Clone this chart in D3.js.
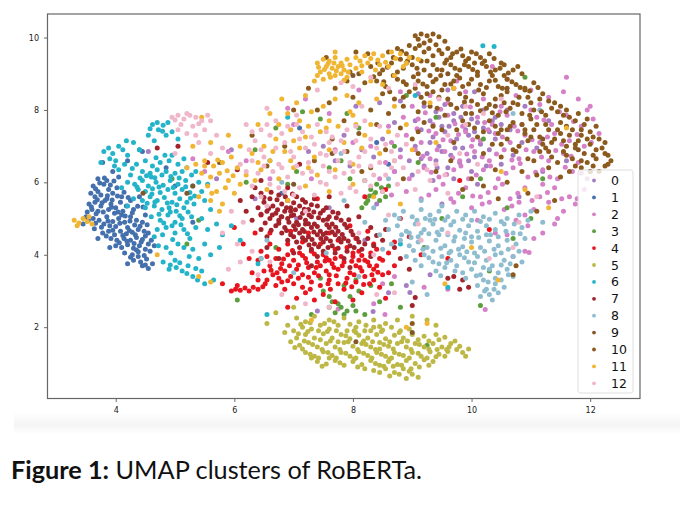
<!DOCTYPE html>
<html>
<head>
<meta charset="utf-8">
<script src="https://cdn.jsdelivr.net/npm/d3@7"></script>
<style>
  body { margin: 0; background: #fff; }
  svg { display: block; }
</style>
</head>
<body>
<div id="chart"></div>
<script>
// cluster names and colours, in plotting order
var labels = ['0','1','2','3','4','5','6','7','8','9','10','11','12']
var colors = ['#a57dc2','#4470ad','#d680c8','#5c9e3e','#e8141e','#bdb845','#24b4c9',
              '#a2232b','#8fbdd0','#83562a','#8c5a1c','#f0b532','#f0b6ca']
var xTicks = [4, 6, 8, 10, 12]
var yTicks = [2, 4, 6, 8, 10]

// umap coordinates, one array per cluster
var c0 = [[9.2,8.1],[9.4,7.95],[9.55,8.15],[9.7,7.9],[9.85,8.1],[10.0,7.75],[10.2,8.0],[10.4,7.8],[10.6,8.0],[9.3,7.7],[9.5,7.55],[9.7,7.7],[9.9,7.45],[10.1,7.65],[10.3,7.4],[10.5,7.6],[9.15,7.45],[9.35,7.25],[9.55,7.4],[9.75,7.2],[9.95,7.3],[10.15,7.05],[10.4,7.2],[9.05,7.0],[9.25,6.8],[9.45,7.0],[9.65,6.75],[9.85,6.95],[10.05,6.7],[10.3,6.9],[8.95,6.6],[9.2,6.45],[9.4,6.6],[9.6,6.4],[9.8,6.55],[10.0,6.3],[10.25,6.45],[8.8,6.9],[8.7,6.3],[9.0,6.2],[9.35,6.05],[9.7,6.1],[10.1,5.95],[10.5,6.5],[10.7,6.75],[10.85,7.1],[11.1,6.95],[10.65,7.45],[9.05,7.7],[8.7,7.65],[8.5,7.2],[8.35,6.7],[8.15,6.9],[7.95,6.45],[7.7,6.6],[7.5,7.0],[7.25,6.85],[7.85,7.3],[8.05,8.1],[8.45,8.2],[8.8,8.25],[9.1,8.45],[9.6,8.55],[10.05,8.5],[10.9,8.1],[11.3,7.7],[11.6,6.6],[11.2,6.3],[10.8,5.6],[9.5,5.4],[8.4,5.4],[7.6,5.3],[8.9,3.15],[8.6,2.95],[7.4,2.45],[5.95,6.9],[5.7,6.1],[4.55,6.85],[6.35,5.55],[7.05,5.0],[8.2,4.4],[9.3,3.45],[8.34,2.43],[8.96,2.96],
  [9.45,7.8],[9.62,7.55],[9.82,7.8],[10.05,7.4],[9.3,7.1],[9.5,6.85],[9.72,6.95],[9.95,6.6],[9.15,6.65],[9.42,6.4],[10.2,7.5],[10.35,7.7]]

var c1 = [[3.78,6.55],[3.95,6.3],[4.2,6.6],[4.45,6.85],[3.7,6.1],[3.85,6.05],[4.05,6.15],[3.62,5.9],[3.7,5.75],[3.8,5.95],[3.88,5.8],[3.75,5.65],[3.95,5.7],[4.02,5.85],[3.65,5.6],[4.1,5.6],[3.85,5.55],[3.58,5.7],[3.55,5.4],[3.65,5.45],[3.75,5.35],[3.82,5.5],[3.92,5.4],[4.0,5.3],[4.08,5.45],[4.18,5.35],[3.7,5.2],[3.88,5.25],[3.98,5.15],[4.12,5.2],[4.25,5.5],[3.6,5.25],[4.3,5.25],[4.4,5.6],[3.5,5.05],[3.62,5.0],[3.72,4.95],[3.85,5.05],[3.95,4.92],[4.05,5.0],[4.15,4.9],[4.25,5.05],[4.35,4.95],[3.8,4.85],[3.9,4.8],[4.0,4.78],[4.2,4.75],[4.32,4.82],[4.45,4.9],[4.1,5.1],[3.45,4.85],[4.5,5.1],[3.78,4.6],[3.88,4.65],[3.98,4.55],[4.08,4.65],[4.18,4.58],[4.28,4.62],[4.38,4.7],[4.48,4.65],[3.92,4.45],[4.02,4.4],[4.14,4.45],[4.25,4.4],[4.35,4.48],[4.45,4.42],[4.55,4.6],[3.7,4.45],[4.6,4.4],[4.0,4.25],[4.1,4.2],[4.2,4.28],[4.3,4.18],[4.4,4.25],[4.5,4.15],[4.15,4.05],[4.28,4.0],[4.38,4.08],[4.48,3.98],[4.58,4.1],[3.9,4.2],[4.65,4.25],[4.3,3.85],[4.42,3.8],[4.52,3.88],[4.45,3.7],[4.55,3.62],[4.62,3.75],[4.2,3.75],[4.85,6.4],[5.0,5.9],[5.3,4.9],[8.4,7.1],[8.6,6.5],[7.1,7.5],[6.8,5.7],
  [3.66,5.82],[3.73,5.98],[3.81,6.12],[3.91,5.93],[3.97,6.04],[3.69,5.52],[3.77,5.44],[3.86,5.63],[3.94,5.51],[4.03,5.62],[4.14,5.73],[4.21,5.58],[3.59,5.32],[3.67,5.13],[3.79,5.18],[3.93,5.31],[4.04,5.18],[4.16,5.07],[4.28,5.16],[4.37,5.34],[3.54,4.96],[3.66,4.87],[3.76,4.76],[3.87,4.93],[4.07,4.87],[4.24,4.93],[4.41,4.79],[4.53,4.83],[3.84,4.52],[3.95,4.68],[4.12,4.53],[4.23,4.67],[4.33,4.55],[4.5,4.52],[4.06,4.33],[4.19,4.37],[4.31,4.31],[4.43,4.35],[4.55,4.3],[4.35,4.13],[4.25,3.93],[4.5,3.72],[4.38,3.95],[3.64,4.72],[4.46,5.32],[3.52,5.18]]

var c2 = [[9.3,8.4],[9.6,8.2],[9.9,8.5],[10.2,8.3],[10.5,8.1],[10.75,8.4],[11.0,8.55],[11.3,8.35],[11.55,8.5],[11.8,8.3],[12.0,8.1],[9.0,8.1],[8.8,8.5],[11.15,8.15],[9.1,7.75],[9.35,7.6],[9.6,7.85],[9.85,7.55],[10.1,7.8],[10.35,7.6],[10.6,7.85],[10.85,7.6],[11.1,7.8],[11.35,7.6],[11.6,7.85],[11.85,7.55],[12.05,7.75],[8.85,7.8],[8.6,7.55],[8.9,7.3],[9.15,7.1],[9.4,7.35],[9.65,7.15],[9.9,7.4],[10.15,7.15],[10.4,7.35],[10.65,7.1],[10.9,7.3],[11.15,7.1],[11.4,7.35],[11.65,7.15],[11.9,7.0],[12.15,7.35],[8.65,7.1],[8.8,6.7],[9.05,6.9],[9.3,6.65],[9.55,6.85],[9.8,6.6],[10.05,6.85],[10.3,6.6],[10.55,6.9],[10.8,6.65],[11.05,6.85],[11.3,6.6],[11.55,6.8],[11.8,6.55],[8.55,6.55],[10.0,7.0],[8.7,6.3],[8.95,6.1],[9.2,6.4],[9.45,6.15],[9.7,6.35],[9.95,6.1],[10.2,6.35],[10.45,6.1],[10.7,6.4],[10.95,6.15],[11.2,6.35],[11.45,6.1],[11.7,6.3],[11.95,6.1],[8.45,6.1],[12.0,6.3],[8.9,5.75],[9.15,5.55],[9.4,5.8],[9.65,5.55],[9.9,5.85],[10.15,5.6],[10.4,5.85],[10.65,5.55],[10.9,5.85],[11.15,5.6],[11.4,5.85],[11.65,5.6],[11.9,5.8],[8.65,5.65],[11.2,5.95],[9.7,5.45],[10.0,5.3],[10.3,5.45],[10.55,5.25],[10.8,5.45],[11.05,5.25],[11.3,5.45],[11.55,5.2],[11.75,5.4],[10.9,5.1],[11.45,5.0],[10.6,4.55],[10.95,4.8],[11.2,4.6],[11.4,4.85],[10.75,4.95],[11.05,4.45],[10.9,4.1],[10.7,3.95],[10.97,4.06],[8.3,7.0],[8.0,7.1],[7.7,6.9],[7.3,6.1],[7.6,7.9],[8.1,8.55],[7.0,7.6],[6.6,6.1],[6.2,6.6],[5.9,6.85],[5.5,6.3],[5.3,6.65],[8.5,3.2],[8.35,2.65],[9.2,3.1],[7.75,2.5],[9.6,3.05],[8.7,3.4],[7.2,8.3],[6.9,8.05],[8.54,2.35],[10.23,2.49],[10.4,4.6],[10.1,4.95],[11.6,8.9],[10.6,8.85],[9.75,8.8],[10.35,9.2],
  [9.22,7.92],[9.48,8.02],[9.72,7.62],[9.98,8.08],[10.22,7.65],[10.48,7.95],[10.72,7.55],[11.0,8.0],[11.22,7.72],[11.48,7.95],[11.72,7.68],[11.95,8.0],[9.08,7.48],[9.28,7.42],[9.52,7.18],[9.78,7.32],[10.02,7.18],[10.28,7.45],[10.52,7.25],[10.78,7.42],[11.02,7.18],[11.28,7.25],[11.52,7.05],[11.78,7.32],[12.02,7.1],[9.18,6.72],[9.42,6.9],[9.68,6.68],[9.92,6.78],[10.18,6.7],[10.42,6.78],[10.68,6.62],[10.92,6.9],[11.18,6.7],[11.42,6.88],[11.68,6.72],[9.32,6.28],[9.58,6.22],[9.82,6.45],[10.08,6.2],[10.32,6.45],[10.58,6.25],[10.82,6.52],[11.08,6.28],[11.32,6.15],[11.58,6.42],[11.85,6.25],[9.28,5.65],[9.52,5.95],[9.78,5.7],[10.02,5.62],[10.28,5.72],[10.52,5.95],[10.78,5.7],[11.02,5.5],[11.28,5.72],[11.52,5.55],[11.78,5.55],[10.18,5.4],[10.68,5.35]]

var c3 = [[8.25,5.5],[8.35,5.65],[8.45,5.5],[8.3,5.8],[8.4,5.95],[8.5,5.75],[8.2,6.05],[8.55,5.6],[8.6,5.9],[8.15,5.3],[7.7,2.4],[7.8,2.55],[7.9,2.45],[8.0,2.6],[7.65,2.7],[7.5,3.0],[7.6,2.85],[7.95,2.85],[8.1,3.0],[8.3,3.15],[8.45,2.7],[8.2,2.35],[7.45,3.35],[7.3,2.35],[8.65,3.2],[8.8,2.55],[6.35,6.9],[6.7,7.5],[7.05,6.3],[7.45,7.75],[7.8,6.6],[8.1,7.5],[8.7,7.0],[9.1,6.55],[8.9,8.4],[7.95,6.1],[7.6,6.4],[6.9,5.95],[5.4,4.95],[4.95,6.1],[5.2,4.3],[6.7,4.2],[6.45,3.9],[6.05,2.75],[6.2,6.0],[9.85,5.6],[10.15,6.1],[10.7,4.45],[10.15,2.6],[10.3,3.55],[10.6,5.3],[11.0,5.0],[9.5,5.0],[9.2,4.2],[9.4,7.8],[10.2,7.2],[11.2,6.1],[10.9,8.9],[7.9,7.9],[7.15,7.95],[9.25,1.5],[8.05,3.3],[7.85,3.15],
  [8.28,5.62],[8.38,5.72],[8.48,5.85],[8.22,5.42],[7.75,2.65],[7.85,2.35],[8.05,2.45],[7.6,2.55]]

var c4 = [[5.95,3.0],[6.02,3.05],[6.1,3.02],[6.18,3.08],[6.25,3.0],[6.32,3.1],[6.4,3.05],[6.48,3.12],[6.05,3.15],[5.8,3.2],[6.55,3.3],[6.65,3.45],[6.75,3.35],[6.85,3.55],[6.95,3.4],[7.05,3.6],[7.15,3.45],[7.25,3.65],[7.35,3.5],[7.45,3.7],[7.55,3.55],[7.65,3.75],[7.75,3.6],[7.85,3.8],[7.95,3.5],[8.05,3.7],[8.15,3.55],[8.25,3.8],[8.35,3.6],[8.45,3.9],[6.6,3.7],[6.7,3.9],[6.8,3.75],[6.9,4.0],[7.0,3.85],[7.1,4.05],[7.2,3.9],[7.3,4.1],[7.4,3.8],[7.5,4.0],[7.6,3.85],[7.7,4.15],[7.8,3.95],[7.9,4.2],[8.0,3.95],[8.1,4.1],[8.2,3.85],[8.3,4.05],[8.4,3.7],[8.5,3.85],[6.5,3.55],[6.4,3.85],[6.45,4.1],[6.6,4.3],[6.75,4.15],[6.9,4.3],[7.15,4.35],[7.45,4.3],[7.75,4.4],[8.05,4.45],[8.35,4.3],[8.6,4.05],[6.7,3.15],[6.85,3.05],[7.0,3.2],[7.15,3.1],[7.3,3.25],[7.45,3.15],[7.6,3.3],[7.75,3.2],[7.9,3.35],[8.05,3.25],[8.2,3.4],[8.35,3.3],[8.5,3.45],[7.2,2.95],[7.5,2.9],[7.85,3.05],[8.15,2.95],[8.45,3.1],[8.6,3.5],[8.7,3.7],[7.35,2.75],[7.7,2.7],[8.0,2.75],[8.55,2.8],[6.3,3.5],[6.25,3.9],[6.15,4.3],[6.35,4.6],[6.0,4.75],[6.6,4.6],[6.95,4.65],[7.25,4.6],[7.6,4.6],[7.95,4.8],[8.25,4.65],[8.7,4.35],[6.9,2.55],[7.05,2.8],[9.15,4.0],[8.95,4.5],[9.6,3.9],[8.8,5.0],[8.55,5.8],[9.8,6.05],[7.4,5.55],[8.2,5.6],[6.45,5.1],[10.3,4.7],[6.8,3.25],[7.6,3.45],[8.1,3.85],
  [6.62,3.57],[6.78,3.62],[6.93,3.7],[7.08,3.72],[7.22,3.78],[7.38,3.65],[7.53,3.83],[7.68,3.65],[7.82,3.7],[7.98,3.82],[8.12,3.65],[8.28,3.7],[8.42,3.52],[6.72,3.5],[6.9,3.28],[7.08,3.35],[7.25,3.38],[7.42,3.42],[7.58,3.2],[7.72,3.42],[7.88,3.22],[8.02,3.45],[8.18,3.18],[8.32,3.45],[6.83,3.88],[6.98,4.12],[7.15,3.98],[7.35,4.02],[7.55,3.92],[7.7,3.9],[8.0,4.05],[8.15,3.98],[8.4,4.15],[6.55,3.95],[7.28,3.05],[7.62,3.05],[7.98,3.12],[8.28,3.2],[6.4,3.3],[6.52,3.2]]

var c5 = [[7.05,2.25],[7.2,2.15],[7.35,2.3],[7.6,2.2],[7.85,2.25],[8.1,2.15],[8.35,2.2],[8.55,2.1],[6.9,2.05],[8.75,2.2],[7.0,1.9],[7.15,2.0],[7.3,1.95],[7.45,2.05],[7.6,1.95],[7.75,2.05],[7.9,1.9],[8.05,2.0],[8.2,1.9],[8.35,2.0],[8.5,1.92],[8.65,2.0],[8.8,1.9],[6.85,1.85],[7.05,1.7],[7.2,1.8],[7.35,1.7],[7.5,1.82],[7.65,1.7],[7.8,1.8],[7.95,1.68],[8.1,1.78],[8.25,1.7],[8.4,1.8],[8.55,1.68],[8.7,1.78],[8.85,1.7],[9.0,1.8],[9.2,1.75],[9.4,1.8],[9.55,1.72],[6.95,1.6],[7.1,1.5],[7.25,1.58],[7.4,1.45],[7.55,1.55],[7.7,1.45],[7.85,1.58],[8.0,1.47],[8.15,1.55],[8.3,1.45],[8.45,1.58],[8.6,1.47],[8.75,1.55],[8.9,1.45],[9.05,1.55],[9.2,1.45],[9.35,1.55],[9.5,1.45],[9.65,1.55],[9.8,1.47],[9.95,1.4],[9.72,1.62],[7.2,1.3],[7.35,1.2],[7.5,1.32],[7.65,1.22],[7.8,1.3],[7.95,1.2],[8.1,1.32],[8.25,1.22],[8.4,1.3],[8.55,1.2],[8.7,1.3],[8.85,1.22],[9.0,1.3],[9.15,1.2],[9.3,1.32],[9.45,1.25],[9.6,1.33],[9.85,1.3],[9.9,1.2],[7.4,1.05],[7.55,0.98],[7.7,1.08],[7.85,0.95],[8.0,1.05],[8.15,0.97],[8.3,1.08],[8.45,0.95],[8.6,1.05],[8.75,0.97],[8.9,1.08],[9.05,1.0],[9.2,1.1],[9.35,1.05],[7.3,1.15],[8.35,0.8],[8.55,0.85],[8.7,0.75],[8.85,0.85],[9.0,0.7],[8.9,0.58],[9.1,0.62],[8.2,0.85],[6.7,2.4],[6.55,2.1],[7.0,2.55],[9.25,2.2],[9.4,2.05],[9.0,2.3],[7.45,1.65],[7.75,1.6],[8.05,1.85],[8.45,1.4],[8.95,1.95],[7.6,1.15],[8.3,1.9],[7.15,1.4],[8.05,1.15],[8.65,1.15],
  [7.12,2.08],[7.28,2.12],[7.52,2.1],[7.68,2.15],[7.95,2.08],[8.22,2.05],[8.45,2.02],[7.08,1.82],[7.24,1.88],[7.42,1.9],[7.57,1.88],[7.72,1.9],[7.88,1.76],[8.02,1.9],[8.18,1.62],[8.33,1.6],[8.48,1.88],[8.62,1.6],[8.78,1.85],[8.92,1.62],[9.1,1.65],[9.28,1.62],[9.45,1.65],[9.62,1.45],[7.02,1.44],[7.18,1.62],[7.32,1.52],[7.48,1.38],[7.62,1.62],[7.78,1.38],[7.92,1.6],[8.08,1.38],[8.22,1.52],[8.38,1.38],[8.52,1.52],[8.68,1.4],[8.82,1.6],[8.98,1.38],[9.12,1.52],[9.28,1.4],[9.42,1.38],[9.58,1.38],[9.75,1.38],[7.28,1.25],[7.42,1.15],[7.58,1.3],[7.72,1.15],[7.88,1.28],[8.02,1.12],[8.18,1.28],[8.32,1.15],[8.48,1.25],[8.62,1.12],[8.78,1.25],[8.95,1.15],[9.1,1.28],[9.25,1.15],[9.4,1.18],[9.55,1.2],[7.48,0.92],[7.78,1.02],[8.08,0.9],[8.38,1.0],[8.52,0.92],[8.68,0.92],[8.82,0.95],[8.98,0.85],[9.12,0.9],[8.45,0.75],[8.62,0.65],[8.78,0.7],[8.95,0.78],[9.28,0.95]]

var c6 = [[3.8,6.85],[3.88,6.95],[3.95,6.8],[4.05,7.0],[4.12,6.9],[3.9,6.65],[4.0,6.6],[4.2,6.75],[4.3,7.1],[3.75,6.55],[4.15,6.5],[4.4,6.9],[4.62,7.6],[4.7,7.65],[4.8,7.58],[4.88,7.65],[4.72,7.45],[4.95,7.4],[4.55,7.3],[4.85,7.3],[5.05,7.2],[4.65,7.15],[4.35,6.5],[4.5,6.6],[4.62,6.45],[4.75,6.55],[4.9,6.6],[5.05,6.5],[5.2,6.4],[4.45,6.3],[4.58,6.25],[4.7,6.35],[4.85,6.3],[5.0,6.25],[5.12,6.3],[5.28,6.2],[4.25,6.2],[5.4,6.0],[4.4,6.9],[4.2,6.0],[4.32,5.95],[4.45,6.05],[4.55,5.9],[4.68,6.0],[4.8,5.92],[4.92,6.05],[5.05,5.95],[5.18,6.05],[5.3,5.9],[4.38,5.8],[4.5,5.75],[4.62,5.82],[4.75,5.72],[4.88,5.8],[5.0,5.7],[5.12,5.8],[5.25,5.72],[4.1,5.85],[5.45,5.75],[5.55,5.95],[4.3,5.55],[4.45,5.5],[4.58,5.6],[4.7,5.5],[4.82,5.58],[4.95,5.45],[5.08,5.55],[5.2,5.45],[4.5,5.3],[4.65,5.35],[4.78,5.25],[4.9,5.3],[5.02,5.2],[5.15,5.3],[5.32,5.4],[5.5,5.5],[4.2,5.35],[5.6,5.25],[4.6,5.05],[4.75,4.95],[4.88,5.1],[5.0,4.9],[5.12,5.0],[5.28,5.05],[5.45,5.0],[4.7,4.7],[4.85,4.75],[5.0,4.6],[5.15,4.7],[5.35,4.75],[5.55,4.7],[5.7,4.85],[4.65,4.5],[5.25,4.45],[5.8,4.55],[5.95,4.8],[4.72,4.25],[4.85,4.2],[5.05,4.3],[5.3,4.15],[5.5,4.3],[5.75,4.2],[4.8,3.8],[4.92,3.72],[5.02,3.65],[5.12,3.55],[5.2,3.48],[5.3,3.4],[5.38,3.3],[5.0,3.85],[4.9,3.6],[5.22,3.7],[5.45,3.55],[5.4,3.9],[5.6,4.0],[5.5,3.2],[5.65,3.3],[6.1,4.4],[6.4,3.75],[6.55,2.35],[6.9,7.8],[9.05,8.4],[10.19,9.77],[10.38,9.75],[8.8,4.3],[9.6,3.1],[6.6,6.6],[4.95,6.75],[4.6,6.15],[5.35,6.3],
  [4.41,6.12],[4.52,6.18],[4.66,6.13],[4.78,6.2],[4.93,6.16],[5.07,6.12],[4.36,5.87],[4.61,5.68],[4.73,5.87],[4.97,5.86],[5.18,5.88],[5.33,5.62],[4.53,5.42],[4.66,5.46],[4.87,5.43],[5.03,5.38],[5.26,5.56],[4.73,5.12],[4.92,5.18],[5.08,5.08],[5.22,5.18],[4.81,4.88],[4.95,4.8],[5.1,4.83],[5.21,4.58],[4.79,4.55],[4.96,4.42],[5.15,4.2],[4.93,4.05],[5.24,3.95],[5.08,3.78],[5.35,3.62],[4.83,6.75],[4.68,6.68],[5.15,6.65],[4.28,6.38],[4.05,6.35],[3.98,6.45],[4.18,7.15],[4.58,7.48],[4.79,7.41]]

var c7 = [[6.3,5.6],[6.45,5.7],[6.6,5.55],[6.75,5.65],[6.9,5.5],[7.05,5.6],[7.2,5.45],[7.35,5.55],[6.5,5.45],[6.65,5.35],[6.8,5.4],[6.95,5.3],[7.1,5.35],[7.25,5.25],[7.4,5.35],[7.55,5.3],[6.4,5.3],[6.55,5.2],[6.7,5.15],[6.85,5.2],[7.0,5.1],[7.15,5.15],[7.3,5.05],[7.45,5.15],[7.6,5.05],[7.75,5.15],[6.6,5.0],[6.75,4.95],[6.9,5.0],[7.05,4.9],[7.2,4.95],[7.35,4.85],[7.5,4.95],[7.65,4.85],[7.8,4.95],[6.7,4.8],[6.85,4.75],[7.0,4.8],[7.15,4.7],[7.3,4.75],[7.45,4.65],[7.6,4.75],[7.75,4.65],[7.9,4.75],[6.8,4.6],[6.95,4.55],[7.1,4.6],[7.25,4.5],[7.4,4.55],[7.55,4.45],[7.7,4.55],[7.85,4.45],[8.0,4.55],[6.9,4.4],[7.05,4.35],[7.2,4.4],[7.35,4.3],[7.5,4.35],[7.65,4.25],[7.8,4.35],[7.95,4.25],[8.1,4.35],[8.25,4.45],[7.1,4.2],[7.3,4.15],[7.5,4.1],[7.7,4.05],[7.9,4.1],[8.15,4.15],[8.35,4.25],[8.5,4.4],[7.0,4.05],[7.4,3.95],[7.85,3.9],[8.3,3.95],[6.2,5.2],[6.3,4.95],[6.45,4.7],[6.55,4.5],[6.1,5.5],[6.35,5.85],[6.9,5.85],[7.6,5.6],[7.9,5.35],[8.1,5.05],[8.3,4.75],[8.55,4.7],[8.7,4.2],[8.8,3.9],[7.95,3.65],[7.3,3.7],[6.75,3.9],[6.55,4.2],[9.7,3.4],[9.85,3.3],[9.8,3.05],[9.95,3.1],[9.6,3.35],[9.05,2.82],[8.95,3.6],[6.05,6.35],[6.45,6.05],[5.55,6.55],[5.05,7.0],[4.7,6.95],[9.0,2.6],[7.1,6.5],[6.95,5.2],[7.2,4.85],[7.55,4.6],[6.8,5.05],
  [6.72,5.52],[6.86,5.6],[7.0,5.44],[7.15,5.52],[7.3,5.38],[6.58,5.28],[6.73,5.24],[6.88,5.3],[7.03,5.24],[7.18,5.26],[7.34,5.18],[7.5,5.22],[7.66,5.18],[6.64,5.1],[6.79,5.05],[6.96,5.08],[7.11,5.03],[7.26,5.1],[7.42,5.02],[7.57,4.98],[7.72,5.02],[6.75,4.87],[6.92,4.9],[7.08,4.83],[7.25,4.86],[7.4,4.78],[7.56,4.83],[7.71,4.76],[7.86,4.84],[6.88,4.67],[7.03,4.7],[7.18,4.64],[7.34,4.63],[7.5,4.56],[7.65,4.63],[7.82,4.56],[7.97,4.65],[7.0,4.5],[7.15,4.47],[7.31,4.42],[7.46,4.45],[7.62,4.38],[7.77,4.45],[7.92,4.38],[8.07,4.45],[7.26,4.27],[7.42,4.22],[7.58,4.2],[7.75,4.18],[8.02,4.2],[8.2,4.3],[6.5,5.58],[6.62,5.73],[6.98,5.68],[6.45,5.12],[6.52,4.88],[6.62,4.68],[7.93,4.97],[8.4,4.53]]

var c8 = [[8.7,5.1],[8.85,5.2],[9.0,5.05],[9.15,5.25],[9.3,5.1],[9.45,5.2],[9.6,5.05],[9.75,5.2],[9.9,5.1],[10.05,5.2],[10.2,5.05],[10.4,5.15],[10.6,5.0],[8.55,4.95],[9.5,5.35],[10.8,5.1],[8.6,4.7],[8.75,4.8],[8.9,4.65],[9.05,4.85],[9.2,4.7],[9.35,4.85],[9.5,4.7],[9.65,4.82],[9.8,4.68],[9.95,4.8],[10.1,4.65],[10.25,4.8],[10.4,4.7],[10.55,4.85],[10.7,4.6],[10.85,4.75],[8.45,4.55],[9.1,4.5],[9.6,4.55],[10.0,4.5],[10.45,4.5],[8.65,4.3],[8.8,4.4],[8.95,4.25],[9.1,4.35],[9.25,4.2],[9.4,4.4],[9.55,4.25],[9.7,4.38],[9.85,4.22],[10.0,4.35],[10.15,4.2],[10.3,4.38],[10.45,4.25],[10.6,4.4],[10.75,4.3],[8.5,4.15],[9.35,4.1],[10.9,4.45],[8.9,3.95],[9.05,3.85],[9.2,4.0],[9.35,3.8],[9.5,3.95],[9.65,3.85],[9.8,4.0],[9.95,3.8],[10.1,3.95],[10.25,3.85],[10.4,4.0],[10.55,3.85],[10.7,3.95],[10.85,3.8],[9.15,3.7],[9.75,3.7],[10.35,3.7],[9.4,3.55],[9.55,3.65],[9.85,3.5],[10.0,3.6],[10.15,3.45],[10.3,3.6],[10.45,3.5],[10.6,3.6],[10.2,3.3],[10.4,3.35],[9.9,3.35],[10.7,3.4],[10.1,3.15],[10.25,3.05],[10.4,3.2],[10.3,2.9],[10.15,2.85],[10.45,2.95],[10.35,2.75],[10.55,3.1],[8.2,4.9],[8.35,5.3],[7.85,5.5],[8.1,3.4],[7.55,4.05],[7.0,3.5],[6.45,3.9],[6.55,4.4],[6.8,6.0],[7.8,6.8],[8.6,6.1],[10.7,7.9],[11.15,8.0],[9.25,2.9],[9.0,3.25],[11.0,5.2],[11.2,4.9],[9.15,5.5],[9.45,4.55],[9.9,4.6],[10.25,4.55],[9.3,4.95],[10.5,4.05],[9.65,4.1],[8.95,4.6],[10.05,4.05],
  [9.08,4.95],[9.22,5.0],[9.38,4.98],[9.55,4.95],[9.7,4.92],[9.85,4.98],[10.0,4.95],[10.15,4.92],[10.3,4.98],[10.5,4.92],[8.82,4.55],[8.98,4.48],[9.15,4.6],[9.28,4.58],[9.42,4.62],[9.72,4.5],[9.88,4.45],[10.12,4.48],[10.32,4.55],[10.58,4.65],[10.72,4.85],[9.02,4.12],[9.18,4.15],[9.48,4.18],[9.62,4.05],[9.78,4.15],[9.92,4.08],[10.22,4.1],[10.38,4.15],[10.62,4.15],[10.8,4.1],[9.28,3.92],[9.45,3.75],[9.58,3.78],[9.88,3.92],[10.05,3.78],[10.2,3.65],[10.5,3.72],[10.65,3.75],[10.08,3.42],[10.28,3.25],[10.5,3.3],[10.22,3.0],[10.38,3.05],[9.48,3.42],[9.72,3.55],[10.62,3.45],[8.78,5.0],[10.95,4.95],[10.82,4.58]]

var c9 = [[8.0,8.95],[8.1,9.0],[9.6,9.0],[10.4,8.1],[11.2,7.2],[9.9,7.9],[5.75,6.55],[7.0,5.95],[8.05,1.6],[9.0,1.85],[11.8,6.9],[10.6,8.6],[8.9,9.3],[7.65,6.8],[5.3,5.9],[4.46,5.7],[5.2,5.7]]

var c10 = [[9.05,10.05],[9.15,10.1],[9.25,10.05],[9.35,10.1],[9.45,10.02],[9.1,9.95],[9.3,9.92],[9.2,9.85],[9.4,9.8],[9.55,9.9],[8.6,9.6],[8.75,9.7],[8.9,9.55],[9.05,9.7],[9.6,9.7],[9.75,9.6],[9.2,9.6],[9.35,9.5],[9.5,9.55],[9.65,9.45],[9.85,9.5],[10.0,9.6],[10.15,9.45],[8.8,9.4],[9.0,9.45],[9.15,9.35],[10.3,9.55],[9.9,9.35],[8.3,9.2],[8.5,9.1],[8.65,9.3],[8.85,9.15],[9.0,9.25],[9.2,9.1],[9.35,9.25],[9.5,9.1],[9.65,9.25],[9.8,9.1],[9.95,9.2],[10.1,9.05],[10.25,9.2],[10.4,9.1],[10.55,9.25],[10.7,9.1],[10.85,9.0],[8.45,9.0],[9.1,9.0],[9.75,8.95],[10.35,8.95],[7.95,9.05],[8.2,8.75],[8.4,8.8],[8.55,8.65],[8.75,8.85],[8.9,8.7],[9.1,8.8],[9.25,8.65],[9.4,8.85],[9.55,8.7],[9.7,8.8],[9.85,8.65],[10.0,8.85],[10.15,8.7],[10.3,8.8],[10.45,8.65],[10.6,8.85],[10.75,8.7],[10.9,8.6],[11.05,8.75],[7.7,8.6],[7.9,8.8],[11.2,8.45],[8.0,8.35],[8.5,8.45],[8.7,8.3],[8.95,8.5],[9.15,8.35],[9.35,8.5],[9.6,8.3],[9.8,8.45],[10.0,8.25],[10.2,8.45],[10.4,8.3],[10.6,8.5],[10.8,8.35],[11.0,8.2],[11.3,8.25],[11.5,8.1],[9.5,8.55],[10.9,8.55],[7.6,8.2],[8.3,8.0],[8.6,7.9],[8.85,8.1],[9.1,7.95],[9.3,8.1],[9.55,7.85],[9.75,8.05],[10.0,7.9],[10.25,8.05],[10.45,7.85],[10.65,8.05],[10.85,7.9],[11.05,8.0],[11.25,7.85],[11.45,7.95],[11.65,7.8],[10.1,8.15],[10.55,8.2],[11.8,7.9],[8.4,7.6],[8.8,7.5],[9.2,7.65],[9.5,7.45],[9.85,7.7],[10.05,7.5],[10.3,7.7],[10.5,7.45],[10.7,7.65],[10.9,7.45],[11.1,7.6],[11.3,7.45],[11.5,7.65],[11.7,7.45],[11.9,7.6],[10.4,7.55],[11.0,7.75],[11.85,7.3],[12.0,7.4],[9.0,7.2],[9.7,7.1],[10.1,7.25],[10.35,7.05],[10.6,7.2],[10.8,7.0],[11.0,7.25],[11.2,7.05],[11.4,7.2],[11.6,7.0],[11.8,7.15],[12.0,7.05],[12.15,7.2],[10.9,7.35],[11.5,7.35],[11.75,6.95],[10.2,6.8],[10.5,6.7],[10.75,6.85],[10.95,6.65],[11.15,6.85],[11.35,6.7],[11.55,6.85],[11.7,6.65],[11.9,6.8],[12.1,6.65],[12.25,6.8],[12.35,6.6],[12.2,6.95],[11.05,6.6],[11.45,6.55],[11.95,6.55],[10.4,6.35],[10.85,6.3],[11.3,6.4],[11.65,6.3],[11.85,6.4],[12.05,6.45],[12.25,6.45],[11.1,6.2],[11.5,6.15],[12.15,6.3],[10.0,6.1],[7.4,8.0],[7.65,7.2],[7.85,7.7],[8.1,7.35],[7.9,6.85],[8.3,6.4],[8.55,6.9],[7.35,6.6],[7.0,8.0],[6.85,7.0],[8.15,6.3],[8.85,6.1],[9.1,6.8],[9.4,6.3],[9.65,6.6],[9.85,5.8],[10.2,5.9],[10.45,5.55],[10.95,5.7],[11.4,5.5],[11.1,5.2],[10.6,6.0],[7.55,9.45],[8.05,9.6],[8.25,9.55],[9.0,2.1],[10.75,3.7],[7.25,8.6],[6.55,6.45],[6.3,7.3],[10.7,3.45],[9.55,9.3],[10.05,9.3],[9.3,8.95],[10.55,8.95],[11.6,7.55],[11.25,6.95],[10.6,7.45],
  [8.68,9.45],[8.82,9.62],[8.95,9.78],[9.12,9.78],[9.28,9.7],[9.45,9.65],[9.68,9.55],[9.82,9.68],[9.95,9.42],[10.08,9.55],[10.22,9.35],[10.38,9.42],[10.5,9.3],[8.42,9.3],[8.58,9.18],[8.75,9.05],[8.92,9.35],[9.08,9.15],[9.25,9.35],[9.42,9.12],[9.58,9.38],[9.72,9.15],[9.88,9.25],[10.02,9.12],[10.18,9.28],[10.32,9.05],[10.48,9.15],[10.62,9.02],[10.78,9.2],[8.35,8.92],[8.52,8.78],[8.68,8.95],[8.85,8.78],[9.02,8.92],[9.18,8.72],[9.35,8.78],[9.48,8.95],[9.65,8.72],[9.8,8.88],[9.95,8.72],[10.1,8.95],[10.25,8.62],[10.4,8.82],[10.52,8.6],[10.68,8.78],[10.82,8.62],[10.98,8.52],[11.12,8.62],[8.62,8.5],[8.85,8.35],[9.05,8.6],[9.25,8.45],[9.45,8.35],[9.7,8.6],[9.9,8.35],[10.12,8.55],[10.3,8.15],[10.5,8.4],[10.7,8.2],[10.95,8.35],[11.15,8.3],[11.4,8.2],[11.6,8.0],[9.2,8.2],[9.42,8.05],[9.65,8.15],[9.88,8.22],[10.15,7.98],[10.35,7.92],[10.58,7.95],[10.78,8.15],[10.98,7.85],[11.18,7.95],[11.35,8.05],[11.55,7.85],[11.75,7.7],[11.95,7.75],[12.1,7.55],[9.75,7.45],[9.95,7.6],[10.2,7.4],[10.45,7.35],[10.65,7.55],[10.85,7.6],[11.05,7.45],[11.25,7.6],[11.45,7.45],[11.65,7.3],[11.85,7.45],[12.05,7.25],[12.25,7.1],[10.95,7.15],[11.15,7.25],[11.35,7.1],[11.55,7.15],[11.75,7.05],[11.95,7.2],[12.1,6.9],[12.3,6.75],[11.3,6.85],[11.6,6.75],[11.85,6.6],[12.05,6.75],[12.3,6.5],[12.0,6.3],[11.75,6.45],[10.7,6.9],[10.5,7.05],[9.35,7.55],[9.1,7.4]]

var c11 = [[7.4,9.3],[7.5,9.4],[7.6,9.35],[7.7,9.45],[7.8,9.3],[7.9,9.4],[7.55,9.2],[7.65,9.15],[7.75,9.2],[7.85,9.1],[7.95,9.25],[7.45,9.05],[7.6,9.0],[7.7,8.95],[7.8,9.0],[7.5,8.85],[7.35,8.8],[7.9,8.9],[8.05,9.15],[7.7,9.6],[8.05,9.45],[8.2,9.5],[8.35,9.55],[8.5,9.5],[8.65,9.6],[8.8,9.55],[8.95,9.45],[8.25,9.3],[8.45,9.25],[8.15,9.05],[8.6,9.2],[9.1,9.4],[8.7,8.95],[8.3,8.8],[7.2,8.4],[7.05,8.2],[6.9,7.9],[7.1,7.7],[7.3,7.95],[7.5,8.1],[7.7,8.3],[7.9,8.4],[8.1,8.2],[8.4,8.3],[8.7,8.1],[8.9,7.6],[8.6,7.4],[8.3,7.6],[8.0,7.85],[7.75,7.55],[7.45,7.4],[7.2,7.25],[6.95,7.45],[6.7,7.2],[6.5,7.0],[6.3,6.8],[6.6,6.6],[6.85,6.85],[7.1,6.95],[7.35,6.7],[7.6,6.9],[7.85,7.1],[8.15,6.95],[8.45,6.8],[8.7,6.6],[9.0,6.9],[8.0,6.5],[7.7,6.35],[7.4,6.2],[7.0,6.4],[6.2,6.2],[6.45,6.35],[6.75,6.1],[7.2,5.9],[7.6,5.75],[8.0,5.95],[8.35,5.6],[8.8,5.4],[6.9,5.5],[6.55,5.8],[7.95,7.95],[7.6,7.7],[8.2,7.3],[6.4,7.6],[6.6,7.9],[9.3,8.2],[9.7,8.6],[9.4,7.1],[5.2,6.4],[5.35,6.5],[5.5,6.6],[5.65,6.45],[5.8,6.55],[5.95,6.7],[6.05,6.4],[5.45,6.25],[5.6,6.15],[5.75,6.25],[5.9,6.05],[5.55,5.9],[5.7,5.75],[5.85,5.85],[6.0,5.7],[5.4,5.6],[5.6,5.5],[5.8,5.4],[6.1,5.95],[5.3,7.0],[5.6,7.1],[5.9,7.3],[5.45,7.8],[6.1,7.0],[5.75,5.2],[10.5,6.3],[10.9,5.8],[11.6,7.5],[11.3,5.3],[10.0,4.2],[10.45,3.3],[9.55,3.2],[8.9,2.0],[9.25,2.1],[7.3,2.2],[5.4,3.4],[5.6,3.25],[4.7,4.0],[3.3,4.95],[3.38,4.88],[3.45,5.0],[3.52,4.92],[3.6,4.85],[3.35,4.8],[3.55,5.05],[6.8,8.3],[7.25,7.55],[8.5,8.7],[8.85,9.2],[6.95,6.6],[6.4,6.55],
  [7.42,9.18],[7.58,9.28],[7.68,9.3],[7.82,9.22],[7.52,9.12],[7.72,9.08],[7.92,9.05],[7.62,8.9],[7.4,8.95],[7.85,8.82],[8.12,9.35],[8.3,9.42],[8.42,9.38],[8.55,9.32],[8.72,9.42],[8.9,9.3],[8.15,9.22],[8.38,9.1],[6.75,7.6],[7.0,7.15],[7.55,7.5],[8.05,7.6],[7.25,6.4],[6.35,6.05],[6.65,6.85],[5.5,6.45],[5.72,6.62],[5.88,6.32],[5.62,5.7],[5.98,6.18]]

var c12 = [[4.95,7.8],[5.05,7.85],[5.15,7.75],[5.25,7.85],[5.35,7.8],[5.45,7.7],[5.55,7.85],[5.1,7.6],[5.3,7.55],[5.5,7.45],[5.2,7.35],[5.7,7.3],[5.4,7.1],[5.8,6.95],[5.0,6.8],[5.6,6.8],[6.2,7.6],[6.45,7.45],[6.7,7.7],[6.9,7.55],[7.15,7.4],[7.4,7.6],[7.65,7.25],[7.9,7.45],[8.2,7.7],[8.45,7.55],[8.75,7.3],[6.35,7.15],[6.6,7.3],[6.85,7.1],[7.1,7.2],[7.35,7.05],[7.6,7.1],[7.85,6.85],[8.1,6.7],[8.4,6.95],[8.65,6.85],[8.9,7.05],[6.25,6.9],[6.5,6.7],[6.75,6.5],[7.0,6.7],[7.25,6.55],[7.5,6.45],[7.75,6.6],[8.0,6.3],[8.3,6.45],[8.55,6.2],[8.85,6.4],[9.1,6.3],[6.1,6.5],[6.4,6.25],[6.65,6.3],[6.9,6.15],[7.15,6.25],[7.45,6.0],[7.7,6.15],[7.95,5.85],[8.2,6.05],[8.5,5.75],[8.75,5.95],[9.05,5.8],[9.3,6.05],[9.6,5.7],[6.3,5.9],[6.6,5.95],[6.85,5.75],[7.1,5.85],[7.35,5.65],[9.4,6.5],[9.8,6.8],[10.1,6.5],[9.6,7.3],[9.9,7.6],[10.2,7.9],[9.45,8.3],[9.9,8.1],[10.5,8.3],[8.6,8.6],[8.3,8.9],[8.0,8.65],[7.4,8.55],[7.8,8.75],[9.05,8.7],[5.95,5.2],[6.15,4.9],[5.8,4.6],[6.05,4.3],[6.3,4.1],[6.1,3.8],[5.9,3.6],[6.4,3.45],[6.6,3.8],[6.8,2.9],[7.2,2.65],[7.6,2.55],[8.4,2.9],[8.7,2.95],[9.15,4.4],[9.6,4.6],[10.3,3.9],[10.8,4.9],[11.1,5.6],[8.1,4.6],[8.6,5.1],[7.2,5.2],[6.55,5.35],[9.1,4.85],[8.35,4.0],[10.7,4.2],[7.05,7.85],[6.55,8.05],[8.15,8.1],[7.55,6.75],[8.05,7.15],[6.3,6.6],
  [5.0,7.72],[5.2,7.9],[5.4,7.62],[5.6,7.7],[5.05,7.45],[5.35,7.3],[6.3,7.4],[6.55,7.6],[6.8,7.35],[7.05,7.6],[7.3,7.25],[7.55,7.4],[7.8,7.15],[8.05,7.55],[8.3,7.2],[8.55,7.05],[6.45,6.9],[6.7,6.95],[6.95,6.85],[7.2,6.95],[7.45,6.8],[7.7,6.85],[7.95,6.55],[8.2,6.85],[8.45,6.55],[8.7,6.6],[6.2,6.3],[6.5,6.45],[6.8,6.4],[7.05,6.45],[7.3,6.3],[7.6,6.3],[7.85,6.25],[8.1,6.45],[8.35,6.2],[8.65,6.4],[6.45,5.6],[6.75,5.85],[7.0,5.65],[7.55,5.95],[7.8,5.7],[8.05,5.75],[8.3,5.9],[9.25,6.35],[9.55,6.2]]

var clusters = [c0, c1, c2, c3, c4, c5, c6, c7, c8, c9, c10, c11, c12]

var W = 680, H = 514,
    plot = {left: 47.5, right: 640, top: 14, bottom: 398.5}

var svg = d3.select('#chart').append('svg')
    .attr('width', W)
    .attr('height', H)

// faint shadow strip under the figure
var defs = svg.append('defs')
var grad = defs.append('linearGradient')
    .attr('id', 'shade')
    .attr('x1', 0).attr('y1', 0).attr('x2', 0).attr('y2', 1)
grad.append('stop').attr('offset', '0%').attr('stop-color', '#fff')
grad.append('stop').attr('offset', '60%').attr('stop-color', '#f4f4f4')
grad.append('stop').attr('offset', '100%').attr('stop-color', '#fff')
svg.append('rect')
    .attr('x', 14).attr('y', 412).attr('width', W - 14).attr('height', 22)
    .attr('fill', 'url(#shade)')

var x = d3.scaleLinear().domain([2.85, 12.84]).range([plot.left, plot.right])
var y = d3.scaleLinear().domain([0.03, 10.65]).range([plot.bottom, plot.top])

var g = svg.append('g')

clusters.forEach(function(pts, i) {
    g.append('g').selectAll('circle')
        .data(pts)
        .join('circle')
        .attr('cx', function(d) { return x(d[0]) })
        .attr('cy', function(d) { return y(d[1]) })
        .attr('r', 2.5)
        .attr('fill', colors[i])
})

// axes
var xAxis = d3.axisBottom(x).tickValues(xTicks).tickSize(3.5).tickPadding(5)
var yAxis = d3.axisLeft(y).tickValues(yTicks).tickSize(3.5).tickPadding(5)

svg.append('g')
    .attr('transform', 'translate(0,' + plot.bottom + ')')
    .call(xAxis)
    .call(styleAxis)
svg.append('g')
    .attr('transform', 'translate(' + plot.left + ',0)')
    .call(yAxis)
    .call(styleAxis)

function styleAxis(sel) {
    sel.select('.domain').remove()
    sel.selectAll('line').attr('stroke', '#444').attr('stroke-width', 0.8)
    sel.selectAll('text')
        .attr('fill', '#222')
        .style('font-family', 'DejaVu Sans, sans-serif')
        .style('font-size', '8px')
}

svg.append('rect')
    .attr('x', plot.left).attr('y', plot.top)
    .attr('width', plot.right - plot.left)
    .attr('height', plot.bottom - plot.top)
    .attr('fill', 'none')
    .attr('stroke', '#666')
    .attr('stroke-width', 1.2)

// legend
var lg = svg.append('g')
lg.append('rect')
    .attr('x', 578).attr('y', 170).attr('width', 55).attr('height', 223)
    .attr('rx', 2.5)
    .attr('fill', '#fff').attr('fill-opacity', 0.8)
    .attr('stroke', '#d6d6d6').attr('stroke-width', 0.8)

var item = lg.selectAll('g.item')
    .data(labels)
    .join('g')
    .attr('class', 'item')
    .attr('transform', function(d, i) { return 'translate(0,' + (180.5 + i * 16.9) + ')' })
item.append('circle')
    .attr('cx', 594).attr('cy', 0).attr('r', 1.9)
    .attr('fill', function(d, i) { return colors[i] })
item.append('text')
    .attr('x', 611).attr('y', 0)
    .attr('dy', '0.36em')
    .style('font-family', 'DejaVu Sans, sans-serif')
    .style('font-size', '12.5px')
    .attr('fill', '#111')
    .text(function(d) { return d })

// caption
var cap = svg.append('text')
    .attr('x', 11).attr('y', 479)
    .style('font-family', 'Lato, sans-serif')
    .style('font-size', '22px')
    .attr('fill', '#111')
cap.append('tspan').style('font-weight', 'bold').text('Figure 1:')
cap.append('tspan').text(' UMAP clusters of RoBERTa.')

// stretch caption font to the width seen in the figure
var capW = cap.node().getComputedTextLength()
cap.style('font-size', (22 * 411 / capW) + 'px')
</script>
</body>
</html>
